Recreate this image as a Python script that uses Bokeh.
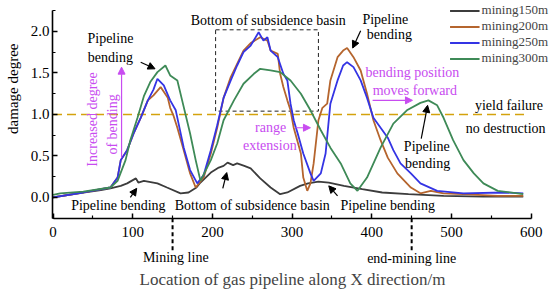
import math
from bokeh.plotting import figure
from bokeh.models import (Label, Arrow, NormalHead, Legend, LegendItem, FixedTicker,
                          Range1d, PrintfTickFormatter)
from bokeh.embed import file_html
from bokeh.resources import INLINE

# ---------------- data ----------------
x150 = [0, 20, 38, 60, 72, 85, 93, 104, 107, 114, 131, 143, 160, 170, 180, 185, 198, 208, 214,
        219, 226, 231, 240, 248, 260, 273, 285, 294, 310, 320, 333, 346, 365, 388, 413, 446, 490, 540, 590]
y150 = [0.0, 0.03, 0.06, 0.09, 0.11, 0.14, 0.17, 0.23, 0.18, 0.20, 0.17, 0.12, 0.05, 0.06, 0.12, 0.18, 0.30, 0.36, 0.38,
        0.42, 0.39, 0.41, 0.38, 0.35, 0.23, 0.12, 0.04, 0.06, 0.14, 0.17, 0.19, 0.18, 0.14, 0.10, 0.06, 0.04, 0.02, 0.01, 0.01]

x200 = [0, 38, 72, 81, 85, 93, 101, 110, 119, 126, 135, 144, 147, 151, 156, 164, 172, 179, 189, 198, 206, 214,
        223, 231, 239, 248, 260, 269, 273, 282, 285, 289, 294, 298, 302, 311, 314, 319, 323, 327, 333, 338, 344,
        348, 357, 364, 369, 377, 386, 394, 402, 411, 420, 432, 449, 461, 474, 490, 515, 558, 590]
y200 = [0.0, 0.06, 0.12, 0.24, 0.45, 0.57, 0.77, 0.96, 1.17, 1.23, 1.33, 1.20, 1.08, 0.99, 0.84, 0.57, 0.29, 0.12, 0.24, 0.53, 0.84, 1.20,
        1.45, 1.61, 1.77, 1.86, 1.93, 1.89, 1.77, 1.73, 1.49, 1.33, 1.17, 1.05, 0.84, 0.53, 0.24, 0.08, 0.17, 0.41, 0.93, 1.08, 1.13,
        1.41, 1.69, 1.77, 1.80, 1.69, 1.53, 1.25, 0.93, 0.69, 0.48, 0.29, 0.12, 0.05, 0.08, 0.05, 0.04, 0.02, 0.02]

x250 = [0, 38, 72, 81, 85, 93, 101, 110, 119, 126, 131, 139, 147, 154, 164, 172, 181, 189, 198, 206, 214, 223, 231,
        239, 248, 258, 264, 269, 273, 282, 289, 294, 298, 302, 307, 314, 323, 327, 336, 342, 348, 357, 364, 369, 377,
        386, 394, 402, 411, 420, 427, 436, 449, 461, 482, 515, 565, 590]
y250 = [0.0, 0.06, 0.12, 0.24, 0.45, 0.57, 0.77, 0.96, 1.17, 1.30, 1.43, 1.35, 1.17, 1.05, 0.60, 0.33, 0.17, 0.27, 0.57, 0.87, 1.20, 1.41, 1.59,
        1.75, 1.83, 1.99, 1.89, 1.93, 1.77, 1.69, 1.49, 1.41, 1.13, 0.93, 0.77, 0.53, 0.29, 0.20, 0.29, 0.53, 1.13, 1.41, 1.59, 1.63, 1.57,
        1.41, 1.20, 0.96, 0.84, 0.72, 0.57, 0.41, 0.29, 0.17, 0.08, 0.05, 0.06, 0.05]

x300 = [0, 9, 38, 72, 81, 91, 97, 106, 114, 122, 131, 141, 147, 156, 162, 172, 179, 185, 198, 206, 214, 227, 239,
        252, 260, 273, 285, 298, 311, 323, 336, 348, 361, 373, 382, 394, 411, 427, 444, 461, 471, 482, 490, 502,
        515, 528, 540, 558, 583, 590]
y300 = [0.03, 0.05, 0.07, 0.12, 0.20, 0.45, 0.69, 0.96, 1.22, 1.39, 1.51, 1.59, 1.47, 1.41, 1.17, 0.77, 0.45, 0.20, 0.45, 0.65, 0.93, 1.17, 1.37,
        1.49, 1.55, 1.53, 1.51, 1.41, 1.25, 1.05, 0.81, 0.60, 0.41, 0.17, 0.08, 0.24, 0.60, 0.89, 1.05, 1.14, 1.17, 1.11, 0.96, 0.69,
        0.45, 0.29, 0.17, 0.08, 0.05, 0.04]

series_names = ["mining150m", "mining200m", "mining250m", "mining300m"]
series_colors = ["#3c3c3c", "#b5652e", "#3434e4", "#3e8a57"]

x_ticks = [0, 100, 200, 300, 400, 500, 600]
x_minor = [50, 150, 250, 350, 450, 550]
y_ticks = [0.0, 0.5, 1.0, 1.5, 2.0]
y_minor = [-0.25, 0.25, 0.75, 1.25, 1.75, 2.25]

yield_level = 1.0
mining_line_x = 150
end_mining_x = 450

SERIF = "Liberation Serif"
MAG = "#c84cf0"

p = figure(width=550, height=294, output_backend="svg", toolbar_location=None,
           x_range=Range1d(-65.9, 624.2), y_range=Range1d(-1.169, 2.373),
           min_border_left=0, min_border_right=0, min_border_top=0, min_border_bottom=0)
p.outline_line_color = None
p.grid.visible = False

xa = p.xaxis[0]
xa.fixed_location = -0.25
xa.bounds = (0, 600)
xa.ticker = FixedTicker(ticks=x_ticks, minor_ticks=x_minor)
ya = p.yaxis[0]
ya.fixed_location = -0.6
ya.bounds = (-0.25, 2.25)
ya.ticker = FixedTicker(ticks=y_ticks, minor_ticks=y_minor)
ya.formatter = PrintfTickFormatter(format="%.1f")
for ax in (xa, ya):
    ax.axis_line_width = 1.6
    ax.axis_line_color = "black"
    ax.major_tick_in = 5
    ax.major_tick_out = 0
    ax.minor_tick_in = 3
    ax.minor_tick_out = 0
    ax.major_tick_line_width = 1.5
    ax.minor_tick_line_width = 1.2
    ax.major_label_text_font = SERIF
    ax.major_label_text_font_size = "15px"
    ax.major_label_text_color = "black"
xa.major_label_standoff = 9
ya.major_label_standoff = 3
xa.axis_label = "Location of gas pipeline along X direction/m"
xa.axis_label_text_font = SERIF
xa.axis_label_text_font_style = "normal"
xa.axis_label_text_font_size = "17px"
xa.axis_label_standoff = 29

# yield line & mining lines
p.line([0, 597], [yield_level, yield_level], line_color="#d4a20c", line_width=1.6, line_dash="9 5")
p.segment([mining_line_x, end_mining_x], [-0.25, -0.25], [mining_line_x, end_mining_x], [-0.65, -0.65],
          line_color="black", line_width=2, line_dash="4 3")

# dashed rectangle
p.line([204, 333, 333, 204, 204], [2.02, 2.02, 1.04, 1.04, 2.02], line_color="#222222", line_width=1, line_dash="4 3")

renderers = []
for xs, ys, c in zip([x150, x200, x250, x300], [y150, y200, y250, y300], series_colors):
    renderers.append(p.line(xs, ys, line_color=c, line_width=1.8))

legend = Legend(items=[LegendItem(label=n, renderers=[r]) for n, r in zip(series_names, renderers)],
                location="top_right", margin=2, padding=0, spacing=0,
                label_text_font=SERIF, label_text_font_size="13px",
                label_height=15, glyph_height=15, glyph_width=30, label_standoff=2,
                border_line_alpha=0, background_fill_alpha=0)
p.add_layout(legend)

def lab(x, y, t, color="black", size="14px", angle=0.0):
    p.add_layout(Label(x=x, y=y, text=t, text_font=SERIF, text_font_size=size, text_color=color,
                       text_align="center", text_baseline="middle", angle=angle))

def arr(x0, y0, x1, y1, color="black"):
    p.add_layout(Arrow(x_start=x0, y_start=y0, x_end=x1, y_end=y1, line_color=color, line_width=1.2,
                       end=NormalHead(size=7, fill_color=color, line_color=color)))

lab(-49.6, 1.31, "damage degree", size="15px", angle=math.pi / 2)

lab(72, 1.92, "Pipeline")
lab(72, 1.69, "bending")
arr(110, 1.63, 128, 1.55)

lab(270, 2.13, "Bottom of subsidence basin")
lab(417, 2.14, "Pipeline")
lab(422, 1.96, "bending")
arr(386, 2.01, 376, 1.80)

lab(451, 1.51, "bending position", color=MAG)
lab(454, 1.29, "moves forward", color=MAG)
arr(401, 1.17, 451, 1.17, color=MAG)

lab(572, 1.11, "yield failure")
lab(568, 0.83, "no destruction")

lab(469, 0.61, "Pipeline")
lab(470, 0.41, "bending")
arr(462, 0.71, 470, 1.11)

lab(273, 0.84, "range", color=MAG)
lab(272, 0.63, "extension", color=MAG)
arr(304, 0.84, 323, 0.84, color=MAG)

lab(49.6, 0.94, "Increased degree", color=MAG, angle=math.pi / 2)
lab(74.7, 0.88, "of bending", color=MAG, angle=math.pi / 2)
arr(86, 0.48, 86, 1.57, color=MAG)

lab(82, -0.10, "Pipeline bending")
arr(97, 0.0, 105, 0.11)
lab(250, -0.10, "Bottom of subsidence basin")
arr(213, 0.11, 218, 0.30)
lab(420, -0.10, "Pipeline bending")
arr(357, 0.02, 346, 0.14)

lab(154, -0.72, "Mining line")
lab(450, -0.73, "end-mining line")

open("out.html", "w").write(file_html(p, INLINE))
